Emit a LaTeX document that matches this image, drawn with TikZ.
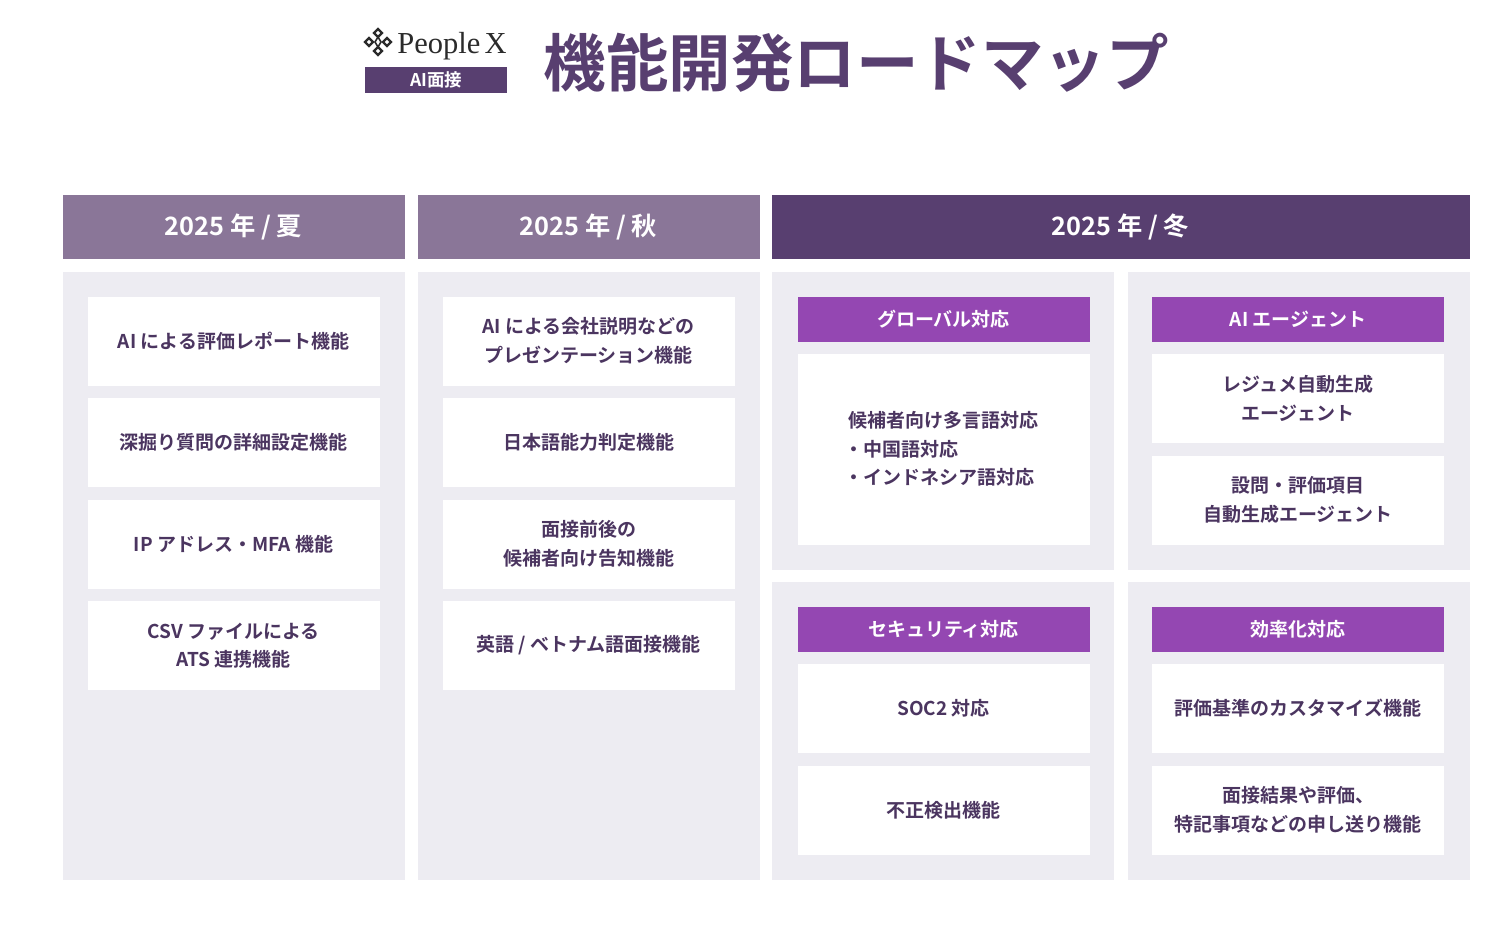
\documentclass[tikz,border=0pt]{standalone}
\usepackage{fontspec}
\setmainfont{Noto Sans CJK JP Bold}
\newfontfamily\titlefont{Noto Sans CJK JP Bold}
\newfontfamily\hdfont{Noto Sans CJK JP Bold}
\newfontfamily\logofont{Liberation Serif}
\definecolor{panelbg}{HTML}{EDECF2}
\definecolor{hdlight}{HTML}{8A7698}
\definecolor{hddark}{HTML}{583F70}
\definecolor{accent}{HTML}{9447B2}
\definecolor{ink}{HTML}{4B3560}
\definecolor{logoink}{HTML}{2B2B2B}
\tikzset{
  x=1pt,y=-1pt,
  panel/.style={fill=panelbg,draw=none},
  band/.style={draw=none,text=white,font=\hdfont\fontsize{25.3}{30}\selectfont,anchor=center,inner sep=0pt,align=center},
  bandlight/.style={band,fill=hdlight},
  banddark/.style={band,fill=hddark},
  subband/.style={draw=none,fill=accent,text=white,font=\fontsize{19}{24}\selectfont,inner sep=0pt,align=center,anchor=center,minimum width=292pt,minimum height=45pt},
  card/.style={draw=none,fill=white,text=ink,font=\fontsize{19}{28.5}\selectfont,inner sep=0pt,align=center,anchor=center,minimum width=292pt,minimum height=89pt},
  tallcard/.style={card,minimum height=191pt},
  lefttext/.style={draw=none,text=ink,font=\fontsize{19}{28.5}\selectfont,inner sep=0pt,align=left,anchor=center},
  knot/.style={draw=logoink,line width=2.2pt,fill=white,line join=miter},
}
\begin{document}
\begin{tikzpicture}
\useasboundingbox (0,0) rectangle (1504,924);
\fill[white] (0,0) rectangle (1504,924);
% logo
\draw[draw=logoink,line width=1.6pt] (378,37) -- (375,42) -- (378,47) -- (381,42) -- cycle;
\foreach \cx/\cy in {378/33,369/42,387/42,378/51}{
  \draw[knot] (\cx-4,\cy) -- (\cx,\cy-4) -- (\cx+4,\cy) -- (\cx,\cy+4) -- cycle;
}
\node[anchor=center,inner sep=0pt,text=logoink,font=\logofont\fontsize{30.5}{34}\selectfont] (brand) at (452,46) {People\hspace{-1pt}\,X};
\node[fill=hddark,text=white,inner sep=0pt,minimum width=142pt,minimum height=26pt,font=\titlefont\fontsize{17.5}{18}\selectfont] (tag) at (436,80) {AI面接};
\node[anchor=center,inner sep=0pt,text=hddark,font=\titlefont\fontsize{62.5}{70}\selectfont] (title) at (856,63) {機能開発ロードマップ};
% header bands
\node[bandlight,minimum width=342pt,minimum height=64pt] (h1) at (233.5,227) {2025 年 / 夏};
\node[bandlight,minimum width=342pt,minimum height=64pt] (h2) at (588.5,227) {2025 年 / 秋};
\node[banddark,minimum width=698pt,minimum height=64pt] (h3) at (1120.5,227) {2025 年 / 冬};
% panels
\fill[panel] (62.5,271.5) rectangle (404.5,879.5);
\fill[panel] (417.5,271.5) rectangle (759.5,879.5);
\fill[panel] (771.5,271.5) rectangle (1113.5,569.5);
\fill[panel] (1127.5,271.5) rectangle (1469.5,569.5);
\fill[panel] (771.5,581.5) rectangle (1113.5,879.5);
\fill[panel] (1127.5,581.5) rectangle (1469.5,879.5);
% summer
\node[card] (a1) at (233.5,341) {AI による評価レポート機能};
\node[card] (a2) at (233.5,442.5) {深掘り質問の詳細設定機能};
\node[card] (a3) at (233.5,544) {IP アドレス・MFA 機能};
\node[card] (a4) at (233.5,645.5) {CSV ファイルによる\\ATS 連携機能};
% autumn
\node[card] (b1) at (588.5,341) {AI による会社説明などの\\プレゼンテーション機能};
\node[card] (b2) at (588.5,442.5) {日本語能力判定機能};
\node[card] (b3) at (588.5,544) {面接前後の\\候補者向け告知機能};
\node[card] (b4) at (588.5,645.5) {英語 / ベトナム語面接機能};
% winter: global
\node[subband] (c0) at (943.5,319) {グローバル対応};
\node[tallcard] (c1) at (943.5,449) {};
\node[lefttext] (c1t) at (943.5,449) {候補者向け多言語対応\\\hspace{-4.5pt}・中国語対応\\\hspace{-4.5pt}・インドネシア語対応};
% winter: agent
\node[subband] (d0) at (1298,319) {AI エージェント};
\node[card] (d1) at (1298,398.5) {レジュメ自動生成\\エージェント};
\node[card] (d2) at (1298,500) {設問・評価項目\\自動生成エージェント};
% winter: security
\node[subband] (e0) at (943.5,629.5) {セキュリティ対応};
\node[card] (e1) at (943.5,708.5) {SOC2 対応};
\node[card] (e2) at (943.5,810) {不正検出機能};
% winter: efficiency
\node[subband] (f0) at (1298,629.5) {効率化対応};
\node[card] (f1) at (1298,708.5) {評価基準のカスタマイズ機能};
\node[card] (f2) at (1298,810) {面接結果や評価、\\特記事項などの申し送り機能};
\end{tikzpicture}
\end{document}
